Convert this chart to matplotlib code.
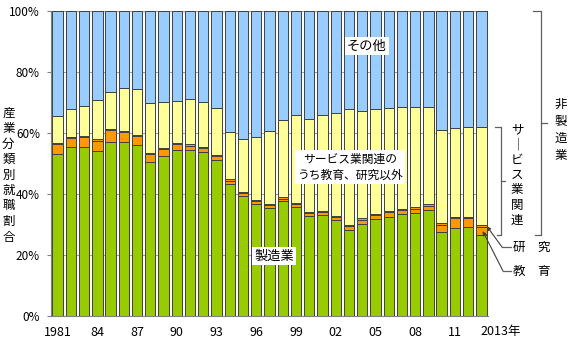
import matplotlib
matplotlib.use('Agg')
import matplotlib.pyplot as plt
import matplotlib.transforms as mtransforms
from matplotlib.lines import Line2D
import numpy as np

plt.rcParams['font.family'] = ['Noto Sans CJK JP', 'DejaVu Sans']

W, H = 583, 350

years = list(range(1981, 2014))
tick_labels = ['1981', '84', '87', '90', '93', '96', '99', '02', '05', '08', '11']

# shares (%) of each layer, bottom to top
manufacturing = [53.0, 55.3, 55.3, 54.0, 56.9, 56.9, 56.0, 50.4, 52.3, 54.5, 54.3,
                 53.7, 51.0, 43.3, 39.3, 36.7, 35.4, 37.6, 35.7, 32.8, 33.1, 31.5,
                 28.3, 30.2, 31.7, 32.6, 33.3, 33.9, 34.8, 27.4, 29.0, 29.2, 26.4]
education = [3.4, 3.1, 3.4, 3.5, 4.0, 3.5, 2.9, 2.8, 2.4, 1.9, 1.6,
             1.4, 1.4, 1.1, 1.1, 1.0, 1.0, 0.9, 1.1, 0.9, 1.0, 1.0,
             1.1, 1.4, 1.3, 1.4, 1.3, 1.3, 1.4, 2.6, 3.2, 3.0, 2.9]
research = [0.4] * 33
service_other = [8.8, 9.0, 9.8, 12.8, 12.0, 13.8, 15.0, 16.1, 15.1, 13.7, 14.8,
                 14.6, 15.3, 15.4, 17.1, 20.6, 23.7, 25.4, 28.6, 30.5, 31.4, 33.8,
                 38.0, 35.3, 34.4, 33.7, 33.6, 32.9, 31.8, 30.6, 29.1, 29.5, 32.2]
other = list(100 - np.array(manufacturing) - np.array(education)
             - np.array(research) - np.array(service_other))

layers = [
    (manufacturing, '#99CC00'),
    (education, '#FF9900'),
    (research, '#FF9900'),
    (service_other, '#FFFF99'),
    (other, '#99CCFF'),
]


def fx(px):
    return px / W


def fy(py):
    return 1 - py / H


fig = plt.figure(figsize=(W / 100, H / 100), dpi=100)
ax = fig.add_axes([51 / W, 34 / H, 437 / W, 305 / H])

x = np.arange(len(years))
bottom = np.zeros(len(years))
for vals, color in layers:
    ax.bar(x, vals, bottom=bottom, width=0.78, color=color,
           edgecolor='#404040', linewidth=0.7, zorder=2)
    bottom += np.array(vals)

ax.set_xlim(-0.5, len(years) - 0.5)
ax.set_ylim(0, 100)
ax.set_yticks(range(0, 101, 20))
ax.set_yticklabels([f'{v}%' for v in range(0, 101, 20)], fontsize=8.5)
ax.set_xticks(x[::3])
ax.set_xticklabels(tick_labels, fontsize=9)
ax.tick_params(axis='x', length=0, pad=7)
ax.tick_params(axis='y', length=3, pad=5, color='#808080')
ax.yaxis.grid(True, color='#a0a0a0', linewidth=0.8)
ax.set_axisbelow(True)
for s in ['top', 'right']:
    ax.spines[s].set_visible(False)
for s in ['left', 'bottom']:
    ax.spines[s].set_color('#808080')

# last year label
ax.text(len(years) - 1.05, -0.0515, f'{years[-1]}年', fontsize=9,
        ha='left', va='center', transform=mtransforms.blended_transform_factory(
            ax.transData, ax.transAxes))

# labels in plot
box = dict(facecolor='white', edgecolor='none', pad=1.5)
fig.text(fx(367), fy(46), 'その他', fontsize=9.5, ha='center', va='center', bbox=box)
fig.text(fx(350), fy(167), 'サービス業関連の\nうち教育、研究以外', fontsize=8.5,
         ha='center', va='center', bbox=box, linespacing=1.3)
fig.text(fx(274), fy(256), '製造業', fontsize=9.5, ha='center', va='center', bbox=box)


def vtext(xc, y0, step, chars, size=9):
    for i, ch in enumerate(chars):
        fig.text(fx(xc), fy(y0 + i * step), ch, fontsize=size,
                 ha='center', va='center')


vtext(8.5, 113, 15.5, '産業分類別就職割合', size=9)
vtext(561, 104, 17.3, '非製造業', size=9)
vtext(517, 130, 15, 'サ｜ビス業関連', size=9)

# brackets
bt = mtransforms.blended_transform_factory(fig.transFigure, ax.transData)
lc = '#606060'
y_lo = manufacturing[-1]
y_serv = manufacturing[-1] + education[-1] + research[-1] + service_other[-1]
fig.add_artist(Line2D([fx(533), fx(541), fx(541), fx(535)], [100, 100, y_lo, y_lo],
                      transform=bt, color=lc, lw=0.9))
fig.add_artist(Line2D([fx(541), fx(547)], [(100 + y_lo) / 2] * 2,
                      transform=bt, color=lc, lw=0.9))
fig.add_artist(Line2D([fx(495), fx(501), fx(501), fx(497)], [y_serv, y_serv, y_lo, y_lo],
                      transform=bt, color=lc, lw=0.9))
fig.add_artist(Line2D([fx(501), fx(505)], [(y_serv + y_lo) / 2] * 2,
                      transform=bt, color=lc, lw=0.9))

# research / education pointers
fig.text(fx(513), fy(247), '研\u3000究', fontsize=9, ha='left', va='center')
fig.text(fx(513), fy(271), '教\u3000育', fontsize=9, ha='left', va='center')
fig.add_artist(Line2D([fx(511), fx(502)], [fy(247)] * 2, color=lc, lw=0.9))
fig.add_artist(Line2D([fx(511), fx(503)], [fy(271)] * 2, color=lc, lw=0.9))
top_res = manufacturing[-1] + education[-1] + research[-1] / 2
mid_edu = manufacturing[-1] + education[-1] / 2
ax.annotate('', xy=(32.4, top_res), xycoords='data', xytext=(fx(502), fy(247)),
            textcoords='figure fraction', annotation_clip=False,
            arrowprops=dict(arrowstyle='-|>', color='#404040', lw=0.8,
                            mutation_scale=6, shrinkA=0, shrinkB=0))
ax.annotate('', xy=(32.1, mid_edu), xycoords='data', xytext=(fx(503), fy(271)),
            textcoords='figure fraction', annotation_clip=False,
            arrowprops=dict(arrowstyle='-|>', color='#404040', lw=0.8,
                            mutation_scale=6, shrinkA=0, shrinkB=0))

fig.savefig('out.png', dpi=100)
